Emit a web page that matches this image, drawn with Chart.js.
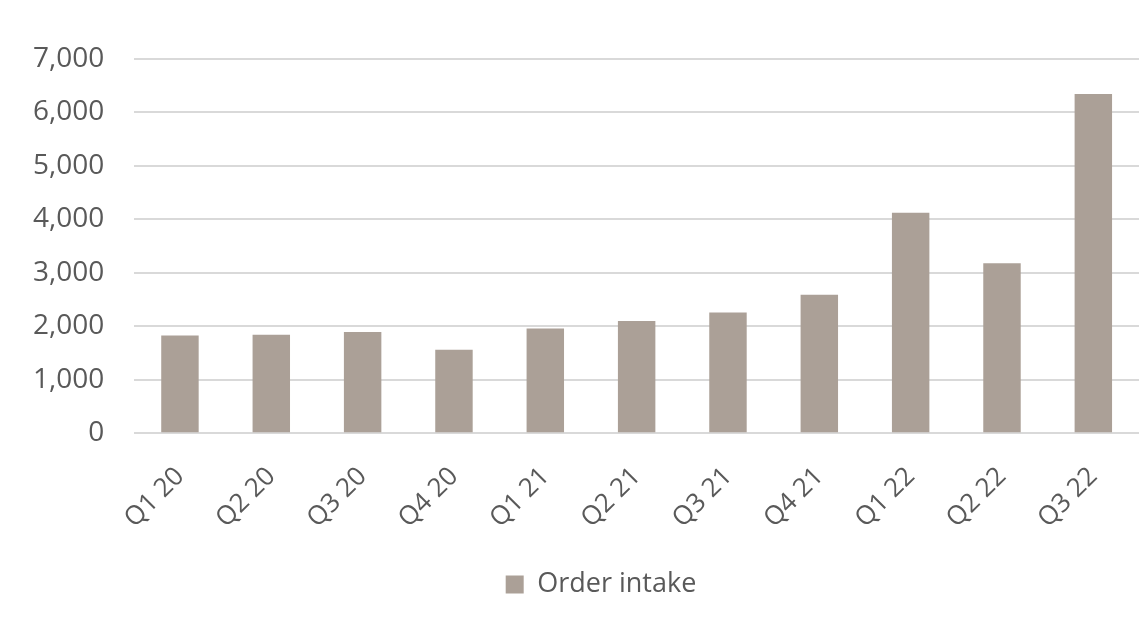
<!DOCTYPE html>
<html lang="en">
<head>
    <meta charset="UTF-8">
    <title>Order intake</title>
    <script src="https://cdn.jsdelivr.net/npm/chart.js"></script>
    <style>
        html, body { margin: 0; padding: 0; background: #fff; }
        .wrap { width: 1139px; height: 628px; position: relative; }
    </style>
</head>
<body>
<div class="wrap"><canvas id="chart"></canvas></div>
<script>
    // Quarters and order intake values
    const quarters = ['Q1 20', 'Q2 20', 'Q3 20', 'Q4 20', 'Q1 21', 'Q2 21', 'Q3 21', 'Q4 21', 'Q1 22', 'Q2 22', 'Q3 22'];
    const orderIntake = [1830, 1845, 1895, 1565, 1960, 2100, 2260, 2590, 4125, 3180, 6345];
    const yTicks = [0, 1000, 2000, 3000, 4000, 5000, 6000, 7000];

    const barColor = '#aba097';
    const gridColor = '#d9d9d9';
    const textColor = '#595959';

    // the legend sits a bit right of the canvas centre in the original
    const legendShift = {
        id: 'legendShift',
        afterLayout(chart) {
            chart.legend.left += 30;
            chart.legend.right += 30;
        }
    };

    new Chart(document.getElementById('chart'), {
        type: 'bar',
        data: {
            labels: quarters,
            datasets: [{
                label: 'Order intake',
                data: orderIntake,
                backgroundColor: barColor,
                borderWidth: 0,
                barPercentage: 0.41,
                categoryPercentage: 1
            }]
        },
        options: {
            responsive: true,
            maintainAspectRatio: false,
            animation: false,
            layout: { padding: { top: 59, left: 3, right: 0, bottom: 20 } },
            plugins: {
                tooltip: { enabled: false },
                legend: {
                    position: 'bottom',
                    labels: {
                        color: textColor,
                        font: { family: 'Open Sans', size: 27 },
                        boxWidth: 18,
                        boxHeight: 18,
                        padding: 17
                    }
                }
            },
            scales: {
                x: {
                    grid: { display: false },
                    border: { display: false },
                    ticks: {
                        color: textColor,
                        font: { family: 'Open Sans', size: 26 },
                        minRotation: 45,
                        maxRotation: 45,
                        padding: 20
                    }
                },
                y: {
                    min: 0,
                    max: 7000,
                    afterBuildTicks: axis => { axis.ticks = yTicks.map(v => ({ value: v })); },
                    grid: { color: gridColor, lineWidth: 2, drawTicks: false },
                    border: { display: false },
                    ticks: {
                        color: textColor,
                        font: { family: 'Open Sans', size: 28 },
                        padding: 30,
                        callback: v => v.toLocaleString('en-US')
                    }
                }
            }
        },
        plugins: [legendShift]
    });
</script>
</body>
</html>
